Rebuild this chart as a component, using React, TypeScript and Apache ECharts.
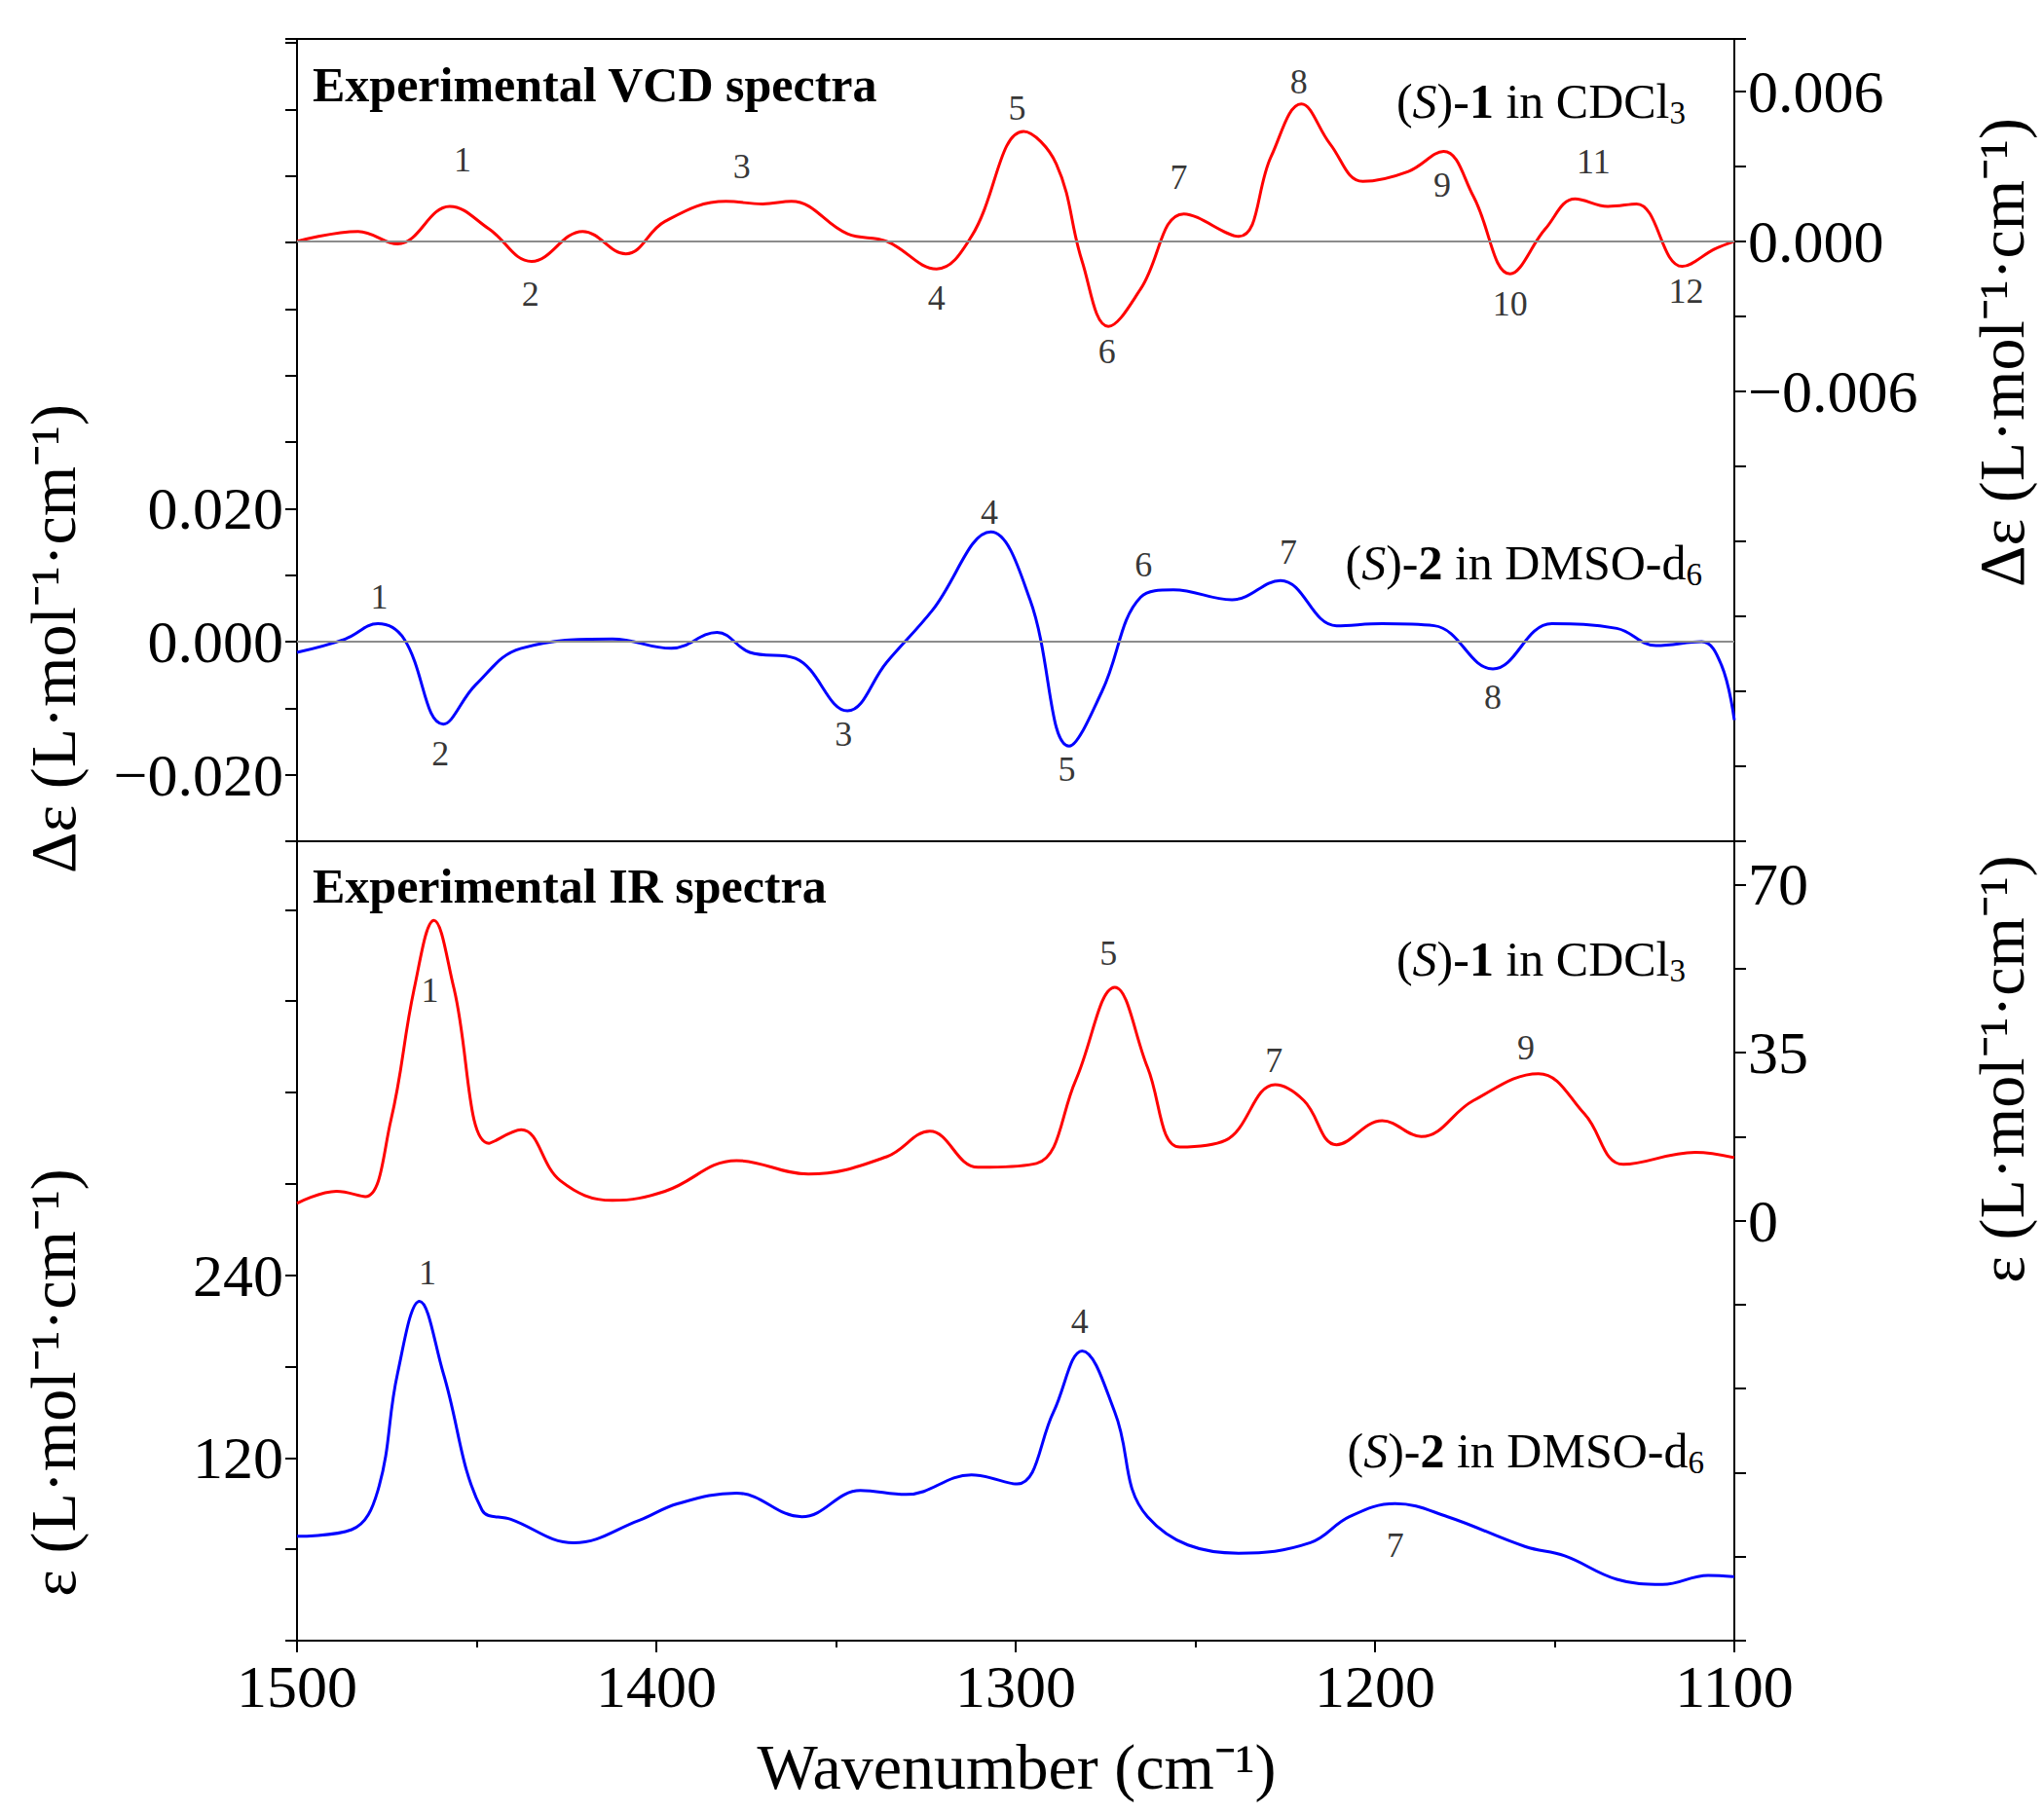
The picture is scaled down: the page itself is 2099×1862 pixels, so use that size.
import { useEffect, useRef } from "react";
import * as echarts from "echarts";

// VCD (S)-1 in CDCl3, right axis
const vcd1: [number, number][] = [
  [1500, 0], [1483, 0.0004], [1472, -0.0001], [1457.5, 0.0014], [1446.6, 0.0005], [1434.7, -0.0008],
  [1420.5, 0.0004], [1408.5, -0.0005], [1397.6, 0.0008], [1380.6, 0.0016], [1370.4, 0.0015],
  [1362.4, 0.0016], [1346.8, 0.0003], [1335.9, 0], [1322, -0.0011], [1312.3, 0.0002], [1297.8, 0.0044],
  [1288.7, 0.0031], [1281.5, -0.0008], [1274.2, -0.0034], [1265.2, -0.0019], [1253.2, 0.0011],
  [1237.9, 0.0002], [1228.9, 0.0034], [1220.5, 0.0055], [1212.5, 0.0039], [1203.4, 0.0024],
  [1190.7, 0.0028], [1180.9, 0.0036], [1172.6, 0.0018], [1162.4, -0.0013], [1152.6, 0.0005],
  [1144.3, 0.0017], [1135.2, 0.0014], [1127.2, 0.0015], [1114.5, -0.001], [1105.4, -0.0003], [1100, 0],
];
// VCD (S)-2 in DMSO-d6, left axis
const vcd2: [number, number][] = [
  [1500, -0.0016], [1486.6, 0.0004], [1477.5, 0.0027], [1470.2, 0.0004], [1459.3, -0.0124],
  [1450.3, -0.0065], [1437.6, -0.001], [1412.2, 0.0004], [1395.8, -0.001], [1383.1, 0.0014],
  [1374, -0.0016], [1361.3, -0.0025], [1346.8, -0.0104], [1335.9, -0.0031], [1323.2, 0.0047],
  [1306.9, 0.0165], [1296, 0.0063], [1285.1, -0.0157], [1276, -0.0075], [1265.2, 0.0067],
  [1256.1, 0.0078], [1239.8, 0.0063], [1226.3, 0.0092], [1210.7, 0.0024], [1198, 0.0027],
  [1183.5, 0.0024], [1167.2, -0.0041], [1150.8, 0.0027], [1132.7, 0.002], [1121.8, -0.0006],
  [1109.1, 0], [1103.6, -0.0035], [1100, -0.0118],
];
// IR (S)-1 in CDCl3, right axis
const ir1: [number, number][] = [
  [1500, 3.6], [1489, 6.1], [1481, 5.0], [1473.9, 20.8], [1467.3, 48.6], [1461.9, 62.5], [1456.4, 48.6],
  [1446.6, 16.1], [1437.6, 18.9], [1426.7, 8.3], [1412.2, 4.2], [1397.6, 6.1], [1377.7, 12.5],
  [1357.7, 9.7], [1335.9, 13.3], [1323.9, 18.6], [1310.5, 11.1], [1294.2, 11.9], [1283.3, 29.2],
  [1272.4, 48.6], [1263.3, 31.9], [1254.3, 15.3], [1241.6, 16.7], [1227.8, 28.3], [1219.8, 25],
  [1210.7, 15.8], [1198, 20.8], [1187.1, 17.5], [1172.6, 25], [1154.5, 30.6], [1141.7, 22.2],
  [1130.9, 11.7], [1110.9, 14.2], [1100, 13.1],
];
// IR (S)-2 in DMSO-d6, left axis
const ir2: [number, number][] = [
  [1500, 68.6], [1484.8, 72.9], [1477.5, 98.6], [1472, 175.7], [1465.9, 222.9], [1459.3, 175.7],
  [1448.5, 85.7], [1440.5, 79.7], [1423, 64.3], [1404.9, 78.9], [1394, 90], [1377.7, 96.9],
  [1359.5, 81.4], [1343.2, 98.6], [1330.5, 96], [1312.3, 108.9], [1299.6, 102.9], [1289.5, 150],
  [1281.5, 190.3], [1272.4, 150], [1263.3, 81.4], [1237.9, 57.4], [1218, 64.3], [1207.1, 81.4],
  [1194.4, 90], [1179.8, 81.4], [1158.1, 61.7], [1147.2, 55.7], [1132.7, 40.3], [1120, 36.9],
  [1107.3, 42.9], [1100, 42],
];

// peak labels: [wavenumber, value, text]
const vcd1Peaks: [number, number, string][] = [
  [1453.9, 0.00325, "1"], [1435, -0.0021, "2"], [1376.2, 0.003, "3"], [1322, -0.00225, "4"],
  [1299.6, 0.00535, "5"], [1274.6, -0.0044, "6"], [1254.6, 0.00257, "7"], [1221.2, 0.0064, "8"],
  [1181.3, 0.00225, "9"], [1162.4, -0.0025, "10"], [1139.2, 0.0032, "11"], [1113.4, -0.002, "12"],
];
const vcd2Peaks: [number, number, string][] = [
  [1477.1, 0.0067, "1"], [1460.1, -0.0169, "2"], [1347.9, -0.0139, "3"], [1307.3, 0.0194, "4"],
  [1285.8, -0.0192, "5"], [1264.4, 0.0116, "6"], [1224.1, 0.0135, "7"], [1167.2, -0.0084, "8"],
];
const ir1Peaks: [number, number, string][] = [
  [1463, 48, "1"], [1274.2, 55.6, "5"], [1228.1, 33.3, "7"], [1158, 36.1, "9"],
];
const ir2Peaks: [number, number, string][] = [
  [1463.7, 241.7, "1"], [1282.2, 210, "4"], [1194.4, 62.6, "7"],
];

const FONT = "Liberation Serif";
const RED = "#ff0000";
const BLUE = "#0000ff";

const fmt = (show: number[], digits: number) => (v: number) =>
  show.some((s) => Math.abs(s - v) < 1e-9) ? (v < 0 ? "\u2212" : "") + Math.abs(v).toFixed(digits) : "";

export default function App() {
  const ref = useRef<HTMLDivElement>(null);

  useEffect(() => {
    document.body.style.margin = "0";
    if (!ref.current) return;
    const chart = echarts.init(ref.current, undefined, { renderer: "svg" });

    const grid = (top: number, height: number) => ({
      left: 305, right: 318, top, height, show: true, borderColor: "#000", borderWidth: 2,
      backgroundColor: "transparent",
    });
    const xAx = (gridIndex: number, labels: boolean) => ({
      type: "value", gridIndex, min: 1100, max: 1500, interval: 100, inverse: true,
      axisLine: { show: true, onZero: false, lineStyle: { color: "#000", width: 2 } },
      axisTick: { show: labels, length: 12, lineStyle: { color: "#000", width: 2 } },
      minorTick: { show: labels, splitNumber: 2, length: 7, lineStyle: { color: "#000", width: 2 } },
      axisLabel: { show: labels, fontFamily: FONT, fontSize: 62, color: "#000", margin: 16, formatter: (v: number) => String(v) },
      splitLine: { show: false },
    });
    const yAx = (gridIndex: number, position: string, min: number, max: number, interval: number, show: number[], digits: number) => ({
      type: "value", gridIndex, position, min, max, interval,
      axisLine: { show: true, onZero: false, lineStyle: { color: "#000", width: 2 } },
      axisTick: { show: true, length: 12, lineStyle: { color: "#000", width: 2 } },
      axisLabel: { fontFamily: FONT, fontSize: 62, color: "#000", margin: 14, formatter: fmt(show, digits), showMinLabel: true, showMaxLabel: true },
      splitLine: { show: false },
    });

    const line = (data: [number, number][], color: string, xi: number, yi: number, zero: boolean) => ({
      type: "line", data, xAxisIndex: xi, yAxisIndex: yi, smooth: 0.4, showSymbol: false,
      lineStyle: { color, width: 3 }, z: 3,
      markLine: zero ? {
        silent: true, symbol: "none", label: { show: false },
        lineStyle: { color: "#8c8c8c", width: 2, type: "solid" }, data: [{ yAxis: 0 }],
      } : undefined,
    });
    const peaks = (data: [number, number, string][], xi: number, yi: number) => ({
      type: "scatter", xAxisIndex: xi, yAxisIndex: yi, symbolSize: 1,
      itemStyle: { color: "transparent" },
      data: data.map(([x, y, t]) => ({ value: [x, y], name: t })),
      label: { show: true, position: "inside", formatter: (p: any) => p.name, fontFamily: FONT, fontSize: 36, color: "#000" },
      z: 4,
    });

    const rich = {
      i: { fontFamily: FONT, fontSize: 50, fontStyle: "italic", color: "#000" },
      b: { fontFamily: FONT, fontSize: 50, fontWeight: "bold", color: "#000" },
      n: { fontFamily: FONT, fontSize: 50, color: "#000" },
      s: { fontFamily: FONT, fontSize: 33, color: "#000", padding: [24, 0, 0, 0] },
    };
    const legend = (x: number, y: number, num: string, solvent: string, sub: string) => ({
      type: "text", x, y,
      style: { text: `{n|(}{i|S}{n|)-}{b|${num}}{n| in ${solvent}}{s|${sub}}`, rich, align: "right", verticalAlign: "middle" },
    });
    const title = (x: number, y: number, text: string) => ({
      type: "text", x, y,
      style: { text, fontFamily: FONT, fontSize: 50, fontWeight: "bold", fill: "#000", verticalAlign: "middle" },
    });
    const vname = (x: number, y: number, text: string) => ({
      type: "text", x, y, rotation: Math.PI / 2,
      style: { text, fontFamily: FONT, fontSize: 66, fill: "#000", align: "center", verticalAlign: "middle" },
    });

    chart.setOption({
      animation: false,
      backgroundColor: "#fff",
      grid: [grid(40, 824), grid(864, 821)],
      xAxis: [xAx(0, false), xAx(1, true)],
      yAxis: [
        yAx(0, "left", -0.03, 0.0906, 0.01, [-0.02, 0, 0.02], 3),
        yAx(0, "right", -0.024, 0.0081, 0.003, [-0.006, 0, 0.006], 3),
        yAx(1, "left", 0, 525, 60, [120, 240], 0),
        yAx(1, "right", -87.5, 79, 17.5, [0, 35, 70], 0),
      ],
      series: [
        line(vcd1, RED, 0, 1, true),
        line(vcd2, BLUE, 0, 0, true),
        line(ir1, RED, 1, 3, false),
        line(ir2, BLUE, 1, 2, false),
        peaks(vcd1Peaks, 0, 1),
        peaks(vcd2Peaks, 0, 0),
        peaks(ir1Peaks, 1, 3),
        peaks(ir2Peaks, 1, 2),
      ],
      graphic: [
        title(321, 87, "Experimental VCD spectra"),
        title(321, 910, "Experimental IR spectra"),
        legend(1731, 104, "1", "CDCl", "3"),
        legend(1748, 578, "2", "DMSO-d", "6"),
        legend(1731, 985, "1", "CDCl", "3"),
        legend(1750, 1490, "2", "DMSO-d", "6"),
        vname(54, 656, "\u0394\u03b5 (L\u00b7mol\u207b\u00b9\u00b7cm\u207b\u00b9)"),
        vname(2055, 362, "\u0394\u03b5 (L\u00b7mol\u207b\u00b9\u00b7cm\u207b\u00b9)"),
        vname(54, 1420, "\u03b5 (L\u00b7mol\u207b\u00b9\u00b7cm\u207b\u00b9)"),
        vname(2055, 1098, "\u03b5 (L\u00b7mol\u207b\u00b9\u00b7cm\u207b\u00b9)"),
        {
          type: "text", x: 1044, y: 1814,
          style: { text: "Wavenumber (cm\u207b\u00b9)", fontFamily: FONT, fontSize: 66, fill: "#000", align: "center", verticalAlign: "middle" },
        },
      ],
    });
    return () => chart.dispose();
  }, []);

  return <div ref={ref} style={{ width: 2099, height: 1862 }} />;
}
